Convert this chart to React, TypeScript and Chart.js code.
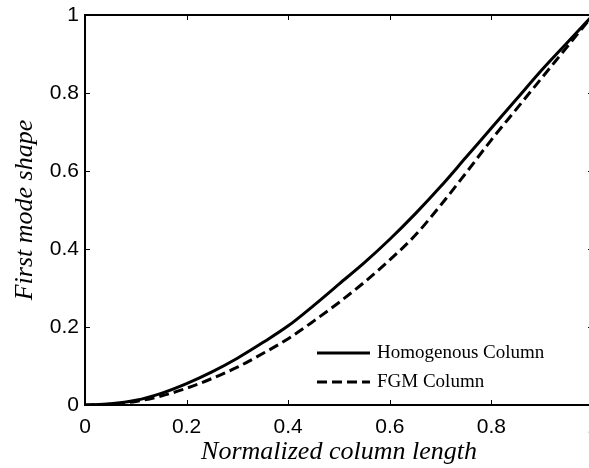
import React, { useEffect, useRef } from "react";
import { Chart, registerables } from "chart.js";

Chart.register(...registerables);

const xValues = [0, 0.05, 0.1, 0.15, 0.2, 0.25, 0.3, 0.35, 0.4, 0.45, 0.5, 0.55, 0.6, 0.65, 0.7, 0.75, 0.8, 0.85, 0.9, 0.95, 1];
const homogenous = [0, 0.003, 0.012, 0.03, 0.055, 0.085, 0.12, 0.16, 0.203, 0.255, 0.31, 0.365, 0.425, 0.49, 0.56, 0.635, 0.71, 0.785, 0.86, 0.93, 1.0];
const fgm = [0, 0.002, 0.009, 0.023, 0.043, 0.068, 0.097, 0.132, 0.17, 0.215, 0.263, 0.315, 0.372, 0.435, 0.512, 0.595, 0.68, 0.76, 0.84, 0.92, 1.0];
const xTicks = [0, 0.2, 0.4, 0.6, 0.8, 1];
const yTicks = [0, 0.2, 0.4, 0.6, 0.8, 1];
const seriesLabels = ["Homogenous Column", "FGM Column"];
const xTitle = "Normalized column length";
const yTitle = "First mode shape";

const SANS = "'Liberation Sans', Arial, Helvetica, sans-serif";
const SERIF = "'Liberation Serif', 'Times New Roman', Times, serif";

export default function App() {
  const ref = useRef<HTMLCanvasElement>(null);

  useEffect(() => {
    document.body.style.margin = "0";
    const canvas = ref.current!;

    const framePlugin = {
      id: "frame",
      afterDraw(chart: any) {
        const { ctx, chartArea, scales } = chart;
        const { left, right, top, bottom } = chartArea;
        ctx.save();
        ctx.strokeStyle = "#000";
        ctx.lineWidth = 1;
        const seg = (x1: number, y1: number, x2: number, y2: number) => {
          ctx.beginPath();
          ctx.moveTo(x1, y1);
          ctx.lineTo(x2, y2);
          ctx.stroke();
        };
        for (const v of xTicks) {
          const px = Math.round(scales.x.getPixelForValue(v)) + 0.5;
          seg(px, bottom, px, bottom - 5);
          seg(px, top, px, top + 5);
        }
        for (const v of yTicks) {
          const py = Math.round(scales.y.getPixelForValue(v)) + 0.5;
          seg(left, py, left + 5, py);
          seg(right, py, right - 5, py);
        }
        ctx.lineWidth = 2;
        ctx.strokeRect(left, top, right - left, bottom - top);
        ctx.restore();
      },
    };

    const legendPlugin = {
      id: "innerLegend",
      afterDraw(chart: any) {
        const { ctx, chartArea } = chart;
        const { left, bottom } = chartArea;
        ctx.save();
        ctx.font = `19px ${SERIF}`;
        ctx.fillStyle = "#000";
        ctx.textBaseline = "middle";
        ctx.textAlign = "left";
        chart.data.datasets.forEach((ds: any, i: number) => {
          const y = bottom - 52 + i * 29;
          ctx.strokeStyle = ds.borderColor;
          ctx.lineWidth = ds.borderWidth;
          ctx.setLineDash(ds.borderDash || []);
          ctx.beginPath();
          ctx.moveTo(left + 232, y);
          ctx.lineTo(left + 285, y);
          ctx.stroke();
          ctx.setLineDash([]);
          ctx.fillText(ds.label, left + 292, y);
        });
        ctx.restore();
      },
    };

    const fmt = (v: any) => String(Number(v));

    const chart = new Chart(canvas, {
      type: "line",
      data: {
        datasets: [
          {
            label: seriesLabels[0],
            data: xValues.map((x, i) => ({ x, y: homogenous[i] })),
            borderColor: "#000",
            borderWidth: 3,
            pointRadius: 0,
            fill: false,
            cubicInterpolationMode: "monotone",
          },
          {
            label: seriesLabels[1],
            data: xValues.map((x, i) => ({ x, y: fgm[i] })),
            borderColor: "#000",
            borderWidth: 3,
            borderDash: [10, 5],
            pointRadius: 0,
            fill: false,
            cubicInterpolationMode: "monotone",
          },
        ],
      },
      options: {
        responsive: false,
        animation: false,
        devicePixelRatio: 1,
        layout: { padding: { top: 15, right: 7, left: 0, bottom: 0 } },
        plugins: { legend: { display: false }, tooltip: { enabled: false } },
        scales: {
          x: {
            type: "linear",
            min: 0,
            max: 1,
            afterBuildTicks: (s: any) => {
              s.ticks = xTicks.map((v) => ({ value: v }));
            },
            afterFit: (s: any) => {
              s.height = 63;
              s.paddingLeft = 0;
              s.paddingRight = 0;
            },
            grid: { display: false, drawTicks: false },
            border: { display: false },
            ticks: {
              padding: 10,
              color: "#000",
              maxRotation: 0,
              autoSkip: false,
              callback: fmt,
              font: { family: SANS, size: 21 },
            },
            title: {
              display: true,
              text: xTitle,
              color: "#000",
              font: { family: SERIF, size: 26, style: "italic" },
              padding: { top: 0, bottom: 0 },
            },
          },
          y: {
            type: "linear",
            min: 0,
            max: 1,
            afterBuildTicks: (s: any) => {
              s.ticks = yTicks.map((v) => ({ value: v }));
            },
            afterFit: (s: any) => {
              s.width = 85;
              s.paddingTop = 0;
              s.paddingBottom = 0;
            },
            grid: { display: false, drawTicks: false },
            border: { display: false },
            ticks: {
              padding: 6,
              color: "#000",
              autoSkip: false,
              callback: fmt,
              font: { family: SANS, size: 21 },
            },
            title: {
              display: true,
              text: yTitle,
              color: "#000",
              font: { family: SERIF, size: 26, style: "italic" },
              padding: { top: 10, bottom: 0 },
            },
          },
        },
      },
      plugins: [framePlugin, legendPlugin],
    } as any);

    return () => chart.destroy();
  }, []);

  return (
    <div style={{ width: 589, height: 468, overflow: "hidden", position: "relative" }}>
      <canvas ref={ref} width={600} height={468} style={{ display: "block" }} />
    </div>
  );
}
